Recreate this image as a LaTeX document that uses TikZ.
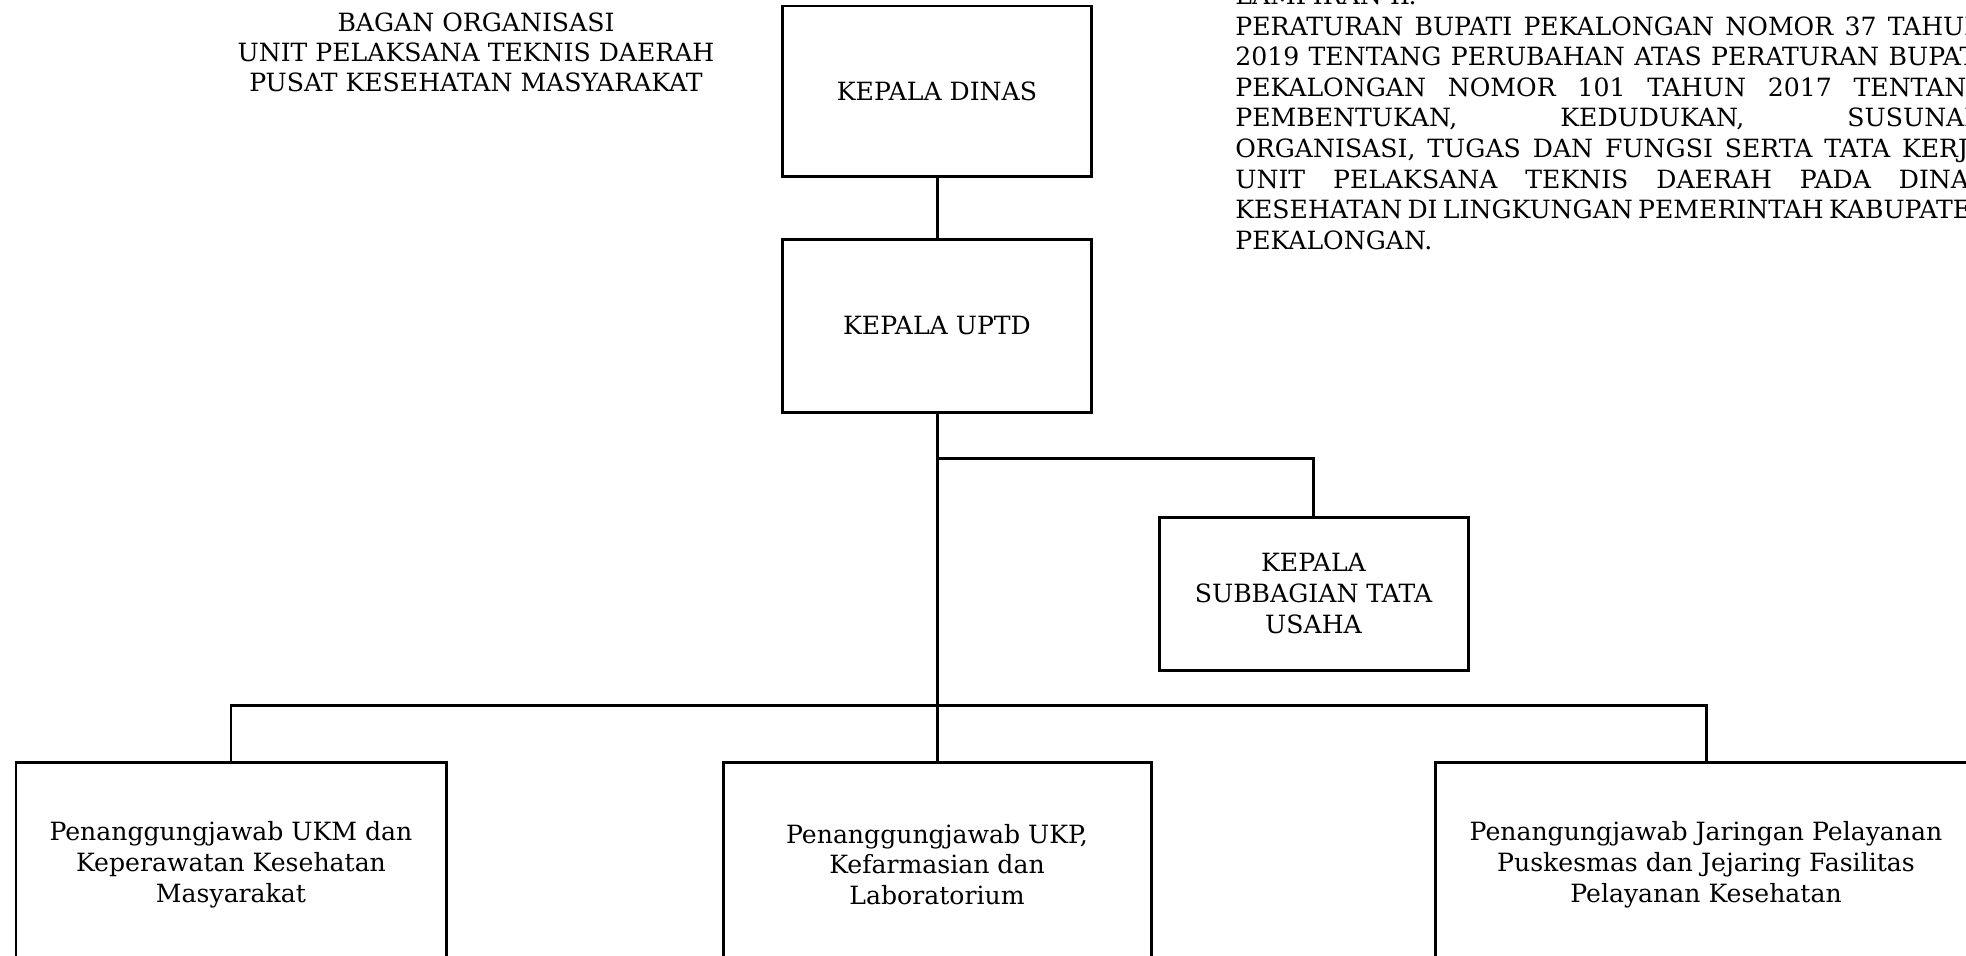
\documentclass[tikz,border=0pt]{standalone}
\usepackage{fontspec}
\setmainfont{DejaVu Serif}
\usetikzlibrary{positioning}

\newcommand{\orgsize}{\fontsize{14.3}{17.5}\selectfont}
\newcommand{\fullline}[1]{\makebox[15.02cm][s]{\spaceskip=0pt\xspaceskip=0pt #1}}

\begin{document}
\begin{tikzpicture}[
    unit/.style={
        rectangle,
        draw=black,
        line width=1.7pt,
        fill=white,
        minimum width=6.18cm,
        minimum height=3.4cm,
        font=\orgsize,
        align=center,
        inner sep=2pt
    },
    link/.style={
        line width=1.7pt,
        black
    },
    heading/.style={
        font=\fontsize{14.3}{17.1}\selectfont,
        align=center,
        inner sep=0pt
    }
]

% Page
\fill[white] (0,0) rectangle (39.32,-19.1);
\useasboundingbox (0,0) rectangle (39.32,-19.1);

% Title
\node[heading] (title) at (9.52,-1.04) {BAGAN ORGANISASI\\UNIT PELAKSANA TEKNIS DAERAH\\PUSAT KESEHATAN MASYARAKAT};

% Lampiran
\node[anchor=north west, inner sep=0pt, text width=15.02cm, align=left,
      font=\fontsize{14.3}{17.4}\selectfont] (lampiran) at (24.7,0.28) {
\makebox[3.46cm][l]{LAMPIRAN II}:\\
\fullline{PERATURAN BUPATI PEKALONGAN NOMOR 37 TAHUN}\\
\fullline{2019 TENTANG PERUBAHAN ATAS PERATURAN BUPATI}\\
\fullline{PEKALONGAN NOMOR 101 TAHUN 2017 TENTANG}\\
\fullline{PEMBENTUKAN, KEDUDUKAN, SUSUNAN}\\
\fullline{ORGANISASI, TUGAS DAN FUNGSI SERTA TATA KERJA}\\
\fullline{UNIT PELAKSANA TEKNIS DAERAH PADA DINAS}\\
\fullline{KESEHATAN DI LINGKUNGAN PEMERINTAH KABUPATEN}\\
PEKALONGAN.
};

% Pimpinan
\node[unit] (dinas) at (18.74,-1.82) {KEPALA DINAS};
\node[unit, minimum height=3.46cm] (uptd) at (18.74,-6.51) {KEPALA UPTD};
\node[unit, minimum height=3.06cm] (tu) at (26.27,-11.87) {KEPALA\\SUBBAGIAN TATA\\USAHA};

% Penanggungjawab
\node[unit, minimum width=8.6cm, minimum height=4.1cm] (ukm) at (4.62,-17.29)
    {Penanggungjawab UKM dan\\Keperawatan Kesehatan\\Masyarakat};
\node[unit, minimum width=8.56cm, minimum height=4.1cm] (ukp) at (18.74,-17.29)
    {Penanggungjawab UKP,\\Kefarmasian dan\\Laboratorium};
\node[unit, minimum width=10.84cm, minimum height=4.1cm] (jaringan) at (34.12,-17.29)
    {Penangungjawab Jaringan Pelayanan\\Puskesmas dan Jejaring Fasilitas\\Pelayanan Kesehatan};

% Lines
\coordinate (split) at (18.74,-9.16);
\coordinate (hub) at (18.74,-14.1);

\draw[link] (dinas) -- (uptd);
\draw[link] (uptd.south) -- (hub);
\draw[link] (split) -| (tu.north);
\draw[link] (hub) -| (ukm.north);
\draw[link] (hub) -| (jaringan.north);
\draw[link] (hub) -- (ukp.north);

\end{tikzpicture}
\end{document}
